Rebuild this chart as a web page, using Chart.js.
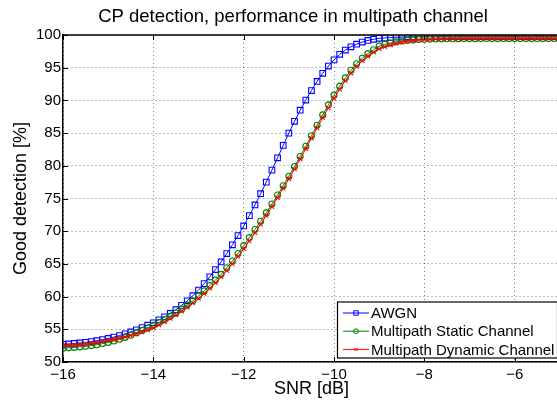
<!DOCTYPE html>
<html>
<head>
<meta charset="utf-8">
<script src="https://cdn.jsdelivr.net/npm/chart.js@4"></script>
<style>
  html, body { margin: 0; padding: 0; background: #fff; overflow: hidden; }
  #wrap { position: absolute; left: 0; top: 0; width: 565px; height: 400px; }
</style>
</head>
<body>
<div id="wrap"><canvas id="chart" width="565" height="400"></canvas></div>
<script>
const TITLE = "CP detection, performance in multipath channel";
const X_LABEL = "SNR [dB]";
const Y_LABEL = "Good detection [%]";

const xTicks = [-16, -14, -12, -10, -8, -6];
const yTicks = [50, 55, 60, 65, 70, 75, 80, 85, 90, 95, 100];

const snr = [
  -16, -15.875, -15.75, -15.625, -15.5, -15.375, -15.25, -15.125,
  -15, -14.875, -14.75, -14.625, -14.5, -14.375, -14.25, -14.125,
  -14, -13.875, -13.75, -13.625, -13.5, -13.375, -13.25, -13.125,
  -13, -12.875, -12.75, -12.625, -12.5, -12.375, -12.25, -12.125,
  -12, -11.875, -11.75, -11.625, -11.5, -11.375, -11.25, -11.125,
  -11, -10.875, -10.75, -10.625, -10.5, -10.375, -10.25, -10.125,
  -10, -9.875, -9.75, -9.625, -9.5, -9.375, -9.25, -9.125,
  -9, -8.875, -8.75, -8.625, -8.5, -8.375, -8.25, -8.125,
  -8, -7.875, -7.75, -7.625, -7.5, -7.375, -7.25, -7.125,
  -7, -6.875, -6.75, -6.625, -6.5, -6.375, -6.25, -6.125,
  -6, -5.875, -5.75, -5.625, -5.5, -5.375, -5.25, -5.125,
  -5
];

const awgn = [
  52.70, 52.76, 52.83, 52.91, 53.00, 53.12, 53.26, 53.42,
  53.60, 53.81, 54.04, 54.30, 54.60, 54.92, 55.26, 55.62,
  56.00, 56.44, 56.90, 57.42, 58.00, 58.66, 59.36, 60.14,
  61.00, 61.98, 63.02, 64.14, 65.30, 66.58, 67.92, 69.34,
  70.80, 72.38, 74.02, 75.74, 77.50, 79.34, 81.22, 83.12,
  85.00, 86.80, 88.50, 90.05, 91.50, 92.90, 94.15, 95.25,
  96.20, 97.05, 97.70, 98.20, 98.60, 98.92, 99.17, 99.35,
  99.50, 99.56, 99.61, 99.66, 99.70, 99.72, 99.73, 99.74,
  99.75, 99.75, 99.76, 99.75, 99.76, 99.76, 99.75, 99.76,
  99.76, 99.75, 99.76, 99.76, 99.75, 99.76, 99.76, 99.76,
  99.75, 99.76, 99.76, 99.75, 99.76, 99.76, 99.75, 99.76,
  99.76
];

const staticCh = [
  52.10, 52.16, 52.23, 52.31, 52.40, 52.51, 52.64, 52.81,
  53.00, 53.22, 53.47, 53.76, 54.10, 54.45, 54.81, 55.19,
  55.60, 56.04, 56.50, 56.98, 57.50, 58.08, 58.70, 59.37,
  60.10, 60.87, 61.68, 62.52, 63.40, 64.40, 65.45, 66.58,
  67.80, 69.02, 70.26, 71.52, 72.80, 74.15, 75.53, 76.95,
  78.40, 79.90, 81.43, 82.99, 84.60, 86.20, 87.78, 89.32,
  90.80, 92.18, 93.45, 94.60, 95.60, 96.45, 97.15, 97.75,
  98.30, 98.57, 98.78, 98.96, 99.10, 99.18, 99.25, 99.31,
  99.35, 99.37, 99.39, 99.41, 99.42, 99.43, 99.44, 99.45,
  99.45, 99.44, 99.45, 99.46, 99.45, 99.45, 99.46, 99.45,
  99.45, 99.46, 99.45, 99.45, 99.46, 99.45, 99.45, 99.46,
  99.45
];

const dynamicCh = [
  52.50, 52.55, 52.61, 52.68, 52.76, 52.86, 52.97, 53.12,
  53.30, 53.46, 53.63, 53.83, 54.05, 54.31, 54.58, 54.88,
  55.20, 55.65, 56.13, 56.64, 57.20, 57.77, 58.38, 59.02,
  59.70, 60.46, 61.26, 62.11, 63.00, 63.98, 65.02, 66.12,
  67.30, 68.50, 69.75, 71.05, 72.40, 73.75, 75.13, 76.55,
  78.00, 79.50, 81.03, 82.59, 84.20, 85.78, 87.34, 88.85,
  90.30, 91.70, 93.00, 94.17, 95.20, 96.05, 96.77, 97.37,
  97.90, 98.22, 98.49, 98.71, 98.90, 99.03, 99.14, 99.23,
  99.30, 99.34, 99.38, 99.41, 99.44, 99.46, 99.48, 99.49,
  99.50, 99.51, 99.50, 99.51, 99.52, 99.51, 99.50, 99.51,
  99.52, 99.51, 99.50, 99.51, 99.52, 99.51, 99.51, 99.50,
  99.51
];

const FONT = "'Liberation Sans', Arial, Helvetica, sans-serif";
const toPoints = (ys) => snr.map((x, i) => ({ x: x, y: ys[i] }));
const minus = (v) => String(v).replace("-", "\u2212");

const series = [
  { label: "AWGN", values: awgn, color: "#0000ff", style: "rect", radius: 4, order: 2 },
  { label: "Multipath Static Channel", values: staticCh, color: "#008000", style: "circle", radius: 3, order: 1 },
  { label: "Multipath Dynamic Channel", values: dynamicCh, color: "#ff0000", style: "crossRot", radius: 3, order: 0 },
];

function marker(ctx, style, x, y, r) {
  ctx.beginPath();
  if (style === "rect") {
    const s = r * Math.SQRT1_2;
    ctx.rect(x - s, y - s, 2 * s, 2 * s);
  } else if (style === "circle") {
    ctx.arc(x, y, r, 0, Math.PI * 2);
  } else {
    const s = r * Math.SQRT1_2;
    ctx.moveTo(x - s, y - s); ctx.lineTo(x + s, y + s);
    ctx.moveTo(x - s, y + s); ctx.lineTo(x + s, y - s);
  }
  ctx.stroke();
}

// matlab style frame: top line, inward ticks, title, boxed legend
const matlabFrame = {
  id: "matlabFrame",
  afterDraw(chart) {
    const ctx = chart.ctx;
    const a = chart.chartArea;
    const xs = chart.scales.x, ys = chart.scales.y;
    ctx.save();
    ctx.strokeStyle = "#000";
    ctx.lineWidth = 1.5;
    ctx.beginPath();
    ctx.moveTo(a.left, a.top); ctx.lineTo(a.right, a.top);
    ctx.stroke();
    ctx.lineWidth = 1;
    ctx.beginPath();
    xTicks.forEach((v) => {
      const px = Math.round(xs.getPixelForValue(v)) + 0.5;
      ctx.moveTo(px, a.bottom); ctx.lineTo(px, a.bottom - 5);
      ctx.moveTo(px, a.top); ctx.lineTo(px, a.top + 5);
    });
    yTicks.forEach((v) => {
      const py = Math.round(ys.getPixelForValue(v)) + 0.5;
      ctx.moveTo(a.left, py); ctx.lineTo(a.left + 5, py);
    });
    ctx.stroke();

    // title
    ctx.fillStyle = "#000";
    ctx.font = "18.5px " + FONT;
    ctx.textAlign = "center";
    ctx.textBaseline = "alphabetic";
    ctx.fillText(TITLE, 293, 22);

    // legend
    const lx = 337.5, ly = 302, lw = 220, lh = 56;
    ctx.fillStyle = "#fff";
    ctx.fillRect(lx, ly, lw, lh);
    ctx.strokeStyle = "#000";
    ctx.lineWidth = 1.2;
    ctx.strokeRect(lx, ly, lw, lh);
    ctx.font = "15px " + FONT;
    ctx.textAlign = "left";
    ctx.textBaseline = "middle";
    series.forEach((s, i) => {
      const yy = 313 + i * 18.2;
      ctx.strokeStyle = s.color;
      ctx.lineWidth = 1;
      ctx.beginPath();
      ctx.moveTo(343, yy); ctx.lineTo(369, yy);
      ctx.stroke();
      marker(ctx, s.style, 356, yy, s.radius * 0.8);
      ctx.fillStyle = "#000";
      ctx.fillText(s.label, 371, yy + 1);
    });
    ctx.restore();
  }
};

new Chart(document.getElementById("chart"), {
  type: "line",
  data: {
    datasets: series.map((s) => ({
      label: s.label,
      data: toPoints(s.values),
      borderColor: s.color,
      backgroundColor: "transparent",
      borderWidth: 1,
      pointStyle: s.style,
      pointRadius: s.radius,
      pointBorderWidth: 1.1,
      pointBorderColor: s.color,
      pointBackgroundColor: "transparent",
      tension: 0,
      order: s.order,
    })),
  },
  options: {
    responsive: false,
    animation: false,
    devicePixelRatio: 1,
    layout: { padding: { top: 35, right: 4, left: 0, bottom: 0 } },
    plugins: {
      legend: { display: false },
      title: { display: false },
      tooltip: { enabled: false },
    },
    scales: {
      x: {
        type: "linear",
        min: -16,
        max: -5,
        afterBuildTicks: (axis) => { axis.ticks = xTicks.map((v) => ({ value: v })); },
        afterFit: (axis) => { axis.height = 38; },
        ticks: {
          padding: 4,
          color: "#000",
          font: { family: FONT, size: 15 },
          callback: (v) => minus(v),
        },
        grid: { color: "rgba(0,0,0,0.5)", drawTicks: false, lineWidth: 1 },
        border: { display: true, color: "#000", width: 1.5, dash: [1, 3] },
        title: {
          display: true,
          text: X_LABEL,
          color: "#000",
          font: { family: FONT, size: 18 },
          padding: { top: 0, bottom: 0 },
        },
      },
      y: {
        type: "linear",
        min: 50,
        max: 100,
        afterBuildTicks: (axis) => { axis.ticks = yTicks.map((v) => ({ value: v })); },
        afterFit: (axis) => { axis.width = 63; },
        ticks: {
          padding: 2,
          color: "#000",
          font: { family: FONT, size: 15 },
        },
        grid: { color: "rgba(0,0,0,0.5)", drawTicks: false, lineWidth: 1 },
        border: { display: true, color: "#000", width: 1.5, dash: [1, 3] },
        title: {
          display: true,
          text: Y_LABEL,
          color: "#000",
          font: { family: FONT, size: 18 },
          padding: { top: 10, bottom: 0 },
        },
      },
    },
  },
  plugins: [matlabFrame],
});
</script>
</body>
</html>
